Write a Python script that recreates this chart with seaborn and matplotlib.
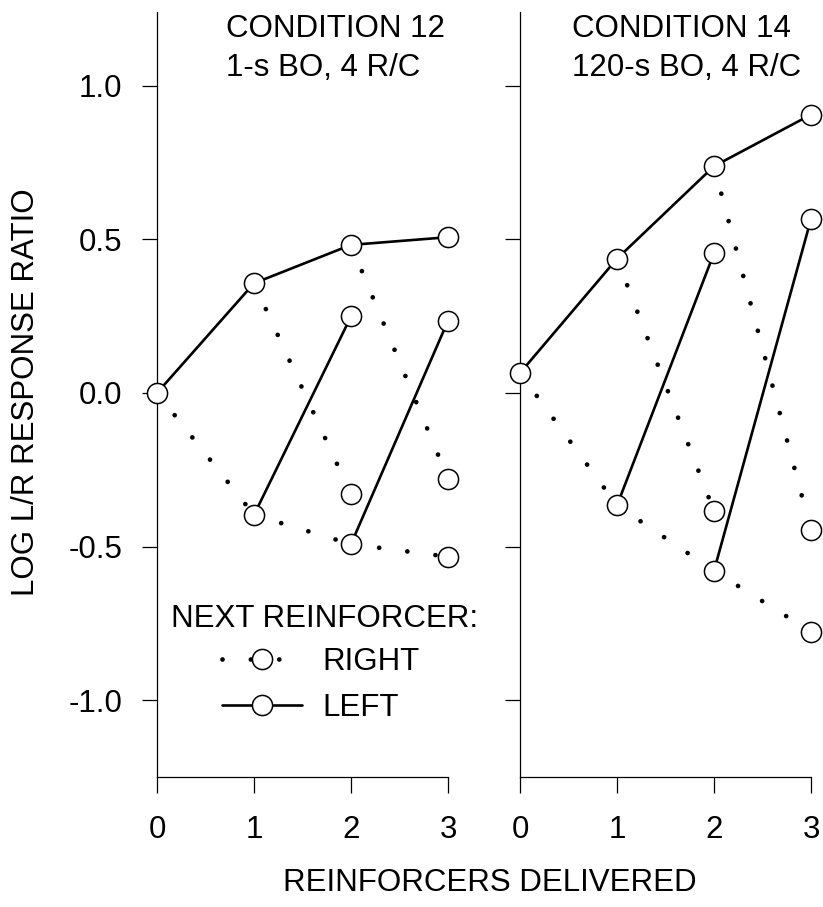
import numpy as np
import pandas as pd
import matplotlib
matplotlib.use("Agg")
import matplotlib.pyplot as plt
from matplotlib.lines import Line2D
import seaborn as sns

# Reinforcer sequences (L = left, R = right); x position = number delivered
sequences = ["", "L", "R", "LL", "LR", "RL", "RR", "LLL", "LLR", "RRL", "RRR"]
cond12_values = [0.000, 0.357, -0.397, 0.482, -0.330, 0.249, -0.492,
                 0.507, -0.279, 0.235, -0.533]
cond14_values = [0.065, 0.437, -0.366, 0.738, -0.385, 0.455, -0.579,
                 0.906, -0.447, 0.566, -0.777]

panel_titles = ["CONDITION 12\n1-s BO, 4 R/C", "CONDITION 14\n120-s BO, 4 R/C"]
x_ticks = [0, 1, 2, 3]
y_ticks = [-1.0, -0.5, 0.0, 0.5, 1.0]
y_tick_labels = ["-1.0", "-0.5", "0.0", "0.5", "1.0"]

sns.set_theme(style="ticks")
plt.rcParams["font.family"] = ["Liberation Sans", "DejaVu Sans"]
plt.rcParams.update({
    "axes.edgecolor": "black",
    "axes.linewidth": 0.9,
    "text.color": "black",
    "axes.labelcolor": "black",
    "xtick.color": "black",
    "ytick.color": "black",
})

W, H = 823, 907
fig = plt.figure(figsize=(W / 100, H / 100), dpi=100)


def fx(x):
    return x / W


def fy(y):
    return 1 - y / H


def segments(values):
    """Long-form table of the branch segments (parent node -> child node)."""
    lookup = dict(zip(sequences, values))
    rows = []
    for seq, val in zip(sequences, values):
        if not seq:
            continue
        parent = seq[:-1]
        for xx, yy in ((len(parent), lookup[parent]), (len(seq), val)):
            rows.append({"segment": seq, "next": seq[-1], "x": xx, "y": yy})
    return pd.DataFrame(rows)


FS = 22.5
DOT_LW = 3.4
SOLID_LW = 1.9
DOT_DASH = (0.01, 6.0)
MS = 14.5

axes_px = [(157, 448), (520, 811)]
text_left = [226, 572]
ax_top, ax_bottom = 12, 777

for i, (values, title) in enumerate(zip([cond12_values, cond14_values], panel_titles)):
    x0, x1 = axes_px[i]
    ax = fig.add_axes([fx(x0), fy(ax_bottom), (x1 - x0) / W, (ax_bottom - ax_top) / H])
    seg = segments(values)

    # Left next reinforcer: solid lines
    sns.lineplot(data=seg[seg["next"] == "L"], x="x", y="y", units="segment",
                 estimator=None, color="black", linewidth=SOLID_LW, ax=ax,
                 legend=False, zorder=2)
    # Right next reinforcer: dotted lines
    sns.lineplot(data=seg[seg["next"] == "R"], x="x", y="y", units="segment",
                 estimator=None, color="black", linewidth=DOT_LW, ax=ax,
                 legend=False, zorder=2, dashes=DOT_DASH,
                 dash_capstyle="round")

    nodes = pd.DataFrame({"x": [len(s) for s in sequences], "y": values})
    sns.scatterplot(data=nodes, x="x", y="y", s=MS ** 2, marker="o",
                    facecolor="white", edgecolor="black", linewidth=1.1,
                    ax=ax, zorder=3, clip_on=False, legend=False)

    ax.set_xlim(0, 3)
    ax.set_ylim(-1.25, 1.24)
    ax.set_xticks(x_ticks)
    ax.set_yticks(y_ticks)
    ax.set_xticklabels([str(t) for t in x_ticks], fontsize=FS)
    if i == 0:
        ax.set_yticklabels(y_tick_labels, fontsize=FS)
    else:
        ax.set_yticklabels([])
    ax.tick_params(axis="y", direction="out", length=11, width=0.9, pad=14)
    ax.tick_params(axis="x", direction="out", length=11.5, width=0.9, pad=16)
    ax.set_xlabel("")
    ax.set_ylabel("")
    sns.despine(ax=ax)
    ax.patch.set_alpha(0)

    fig.text(fx(text_left[i]), fy(37), title.split("\n")[0], fontsize=FS,
             ha="left", va="baseline")
    fig.text(fx(text_left[i]), fy(76), title.split("\n")[1], fontsize=FS,
             ha="left", va="baseline")

    if i == 0:
        ax_left = ax

fig.text(fx(26), fy(392), "LOG L/R RESPONSE RATIO", fontsize=FS,
         rotation=90, ha="center", va="center")
fig.text(fx(490), fy(891), "REINFORCERS DELIVERED", fontsize=FS,
         ha="center", va="baseline")

# Legend
fig.text(fx(171), fy(627), "NEXT REINFORCER:", fontsize=FS,
         ha="left", va="baseline")
handles = [
    Line2D([], [], color="black", linewidth=DOT_LW, dashes=DOT_DASH,
           dash_capstyle="round", marker="o", markersize=MS,
           markerfacecolor="white", markeredgecolor="black",
           markeredgewidth=1.1),
    Line2D([], [], color="black", linewidth=SOLID_LW, marker="o",
           markersize=MS, markerfacecolor="white", markeredgecolor="black",
           markeredgewidth=1.1),
]
leg = ax_left.legend(handles, ["RIGHT", "LEFT"], loc="upper left",
                     bbox_to_anchor=(fx(222), fy(647)),
                     bbox_transform=fig.transFigure, frameon=False,
                     fontsize=FS, handlelength=2.56, handletextpad=0.64,
                     labelspacing=0.51, numpoints=1, borderpad=0,
                     borderaxespad=0)

fig.savefig("out.png", dpi=100)
